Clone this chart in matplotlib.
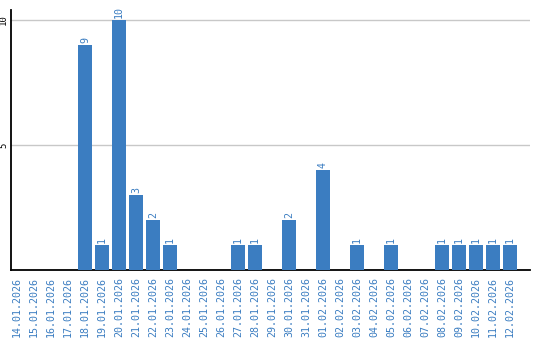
import matplotlib
matplotlib.use("Agg")
import matplotlib.pyplot as plt
import numpy as np

# daily counts
dates = ["14.01.2026", "15.01.2026", "16.01.2026", "17.01.2026", "18.01.2026",
         "19.01.2026", "20.01.2026", "21.01.2026", "22.01.2026", "23.01.2026",
         "24.01.2026", "25.01.2026", "26.01.2026", "27.01.2026", "28.01.2026",
         "29.01.2026", "30.01.2026", "31.01.2026", "01.02.2026", "02.02.2026",
         "03.02.2026", "04.02.2026", "05.02.2026", "06.02.2026", "07.02.2026",
         "08.02.2026", "09.02.2026", "10.02.2026", "11.02.2026", "12.02.2026"]
counts = [0, 0, 0, 0, 9, 1, 10, 3, 2, 1, 0, 0, 0, 1, 1,
          0, 2, 0, 4, 0, 1, 0, 1, 0, 0, 1, 1, 1, 1, 1]
y_ticks = [5, 10]

bar_color = "#3b7dc1"
font = "DejaVu Sans Mono"

fig = plt.figure(figsize=(5.4, 3.4), dpi=100)
ax = fig.add_axes([11 / 540, 70 / 340, 519 / 540, 260 / 340])

x = np.arange(len(dates))
ax.bar(x, counts, width=0.82, color=bar_color, zorder=3)

# value labels above the bars
for xi, c in zip(x, counts):
    if c > 0:
        ax.text(xi, c + 0.08, str(c), rotation=90, ha="center", va="bottom",
                color=bar_color, fontsize=7.2, family=font)

ax.set_xlim(-0.35, 30.18)
ax.set_ylim(0, 10.4)

ax.set_yticks(y_ticks)
ax.set_yticklabels([str(t) for t in y_ticks], rotation=90, va="center",
                   fontsize=6.5, family=font, color="black")
ax.set_xticks(x)
ax.set_xticklabels(dates, rotation=90, fontsize=7.2, family=font, color=bar_color)
ax.tick_params(axis="both", length=0, pad=5)
ax.tick_params(axis="y", pad=2)

ax.yaxis.grid(True, color="#c8c8c8", linewidth=1, zorder=0)
ax.spines["top"].set_visible(False)
ax.spines["right"].set_visible(False)
ax.spines["left"].set_linewidth(1.3)
ax.spines["bottom"].set_linewidth(1.3)

fig.savefig("out.png", dpi=100)
